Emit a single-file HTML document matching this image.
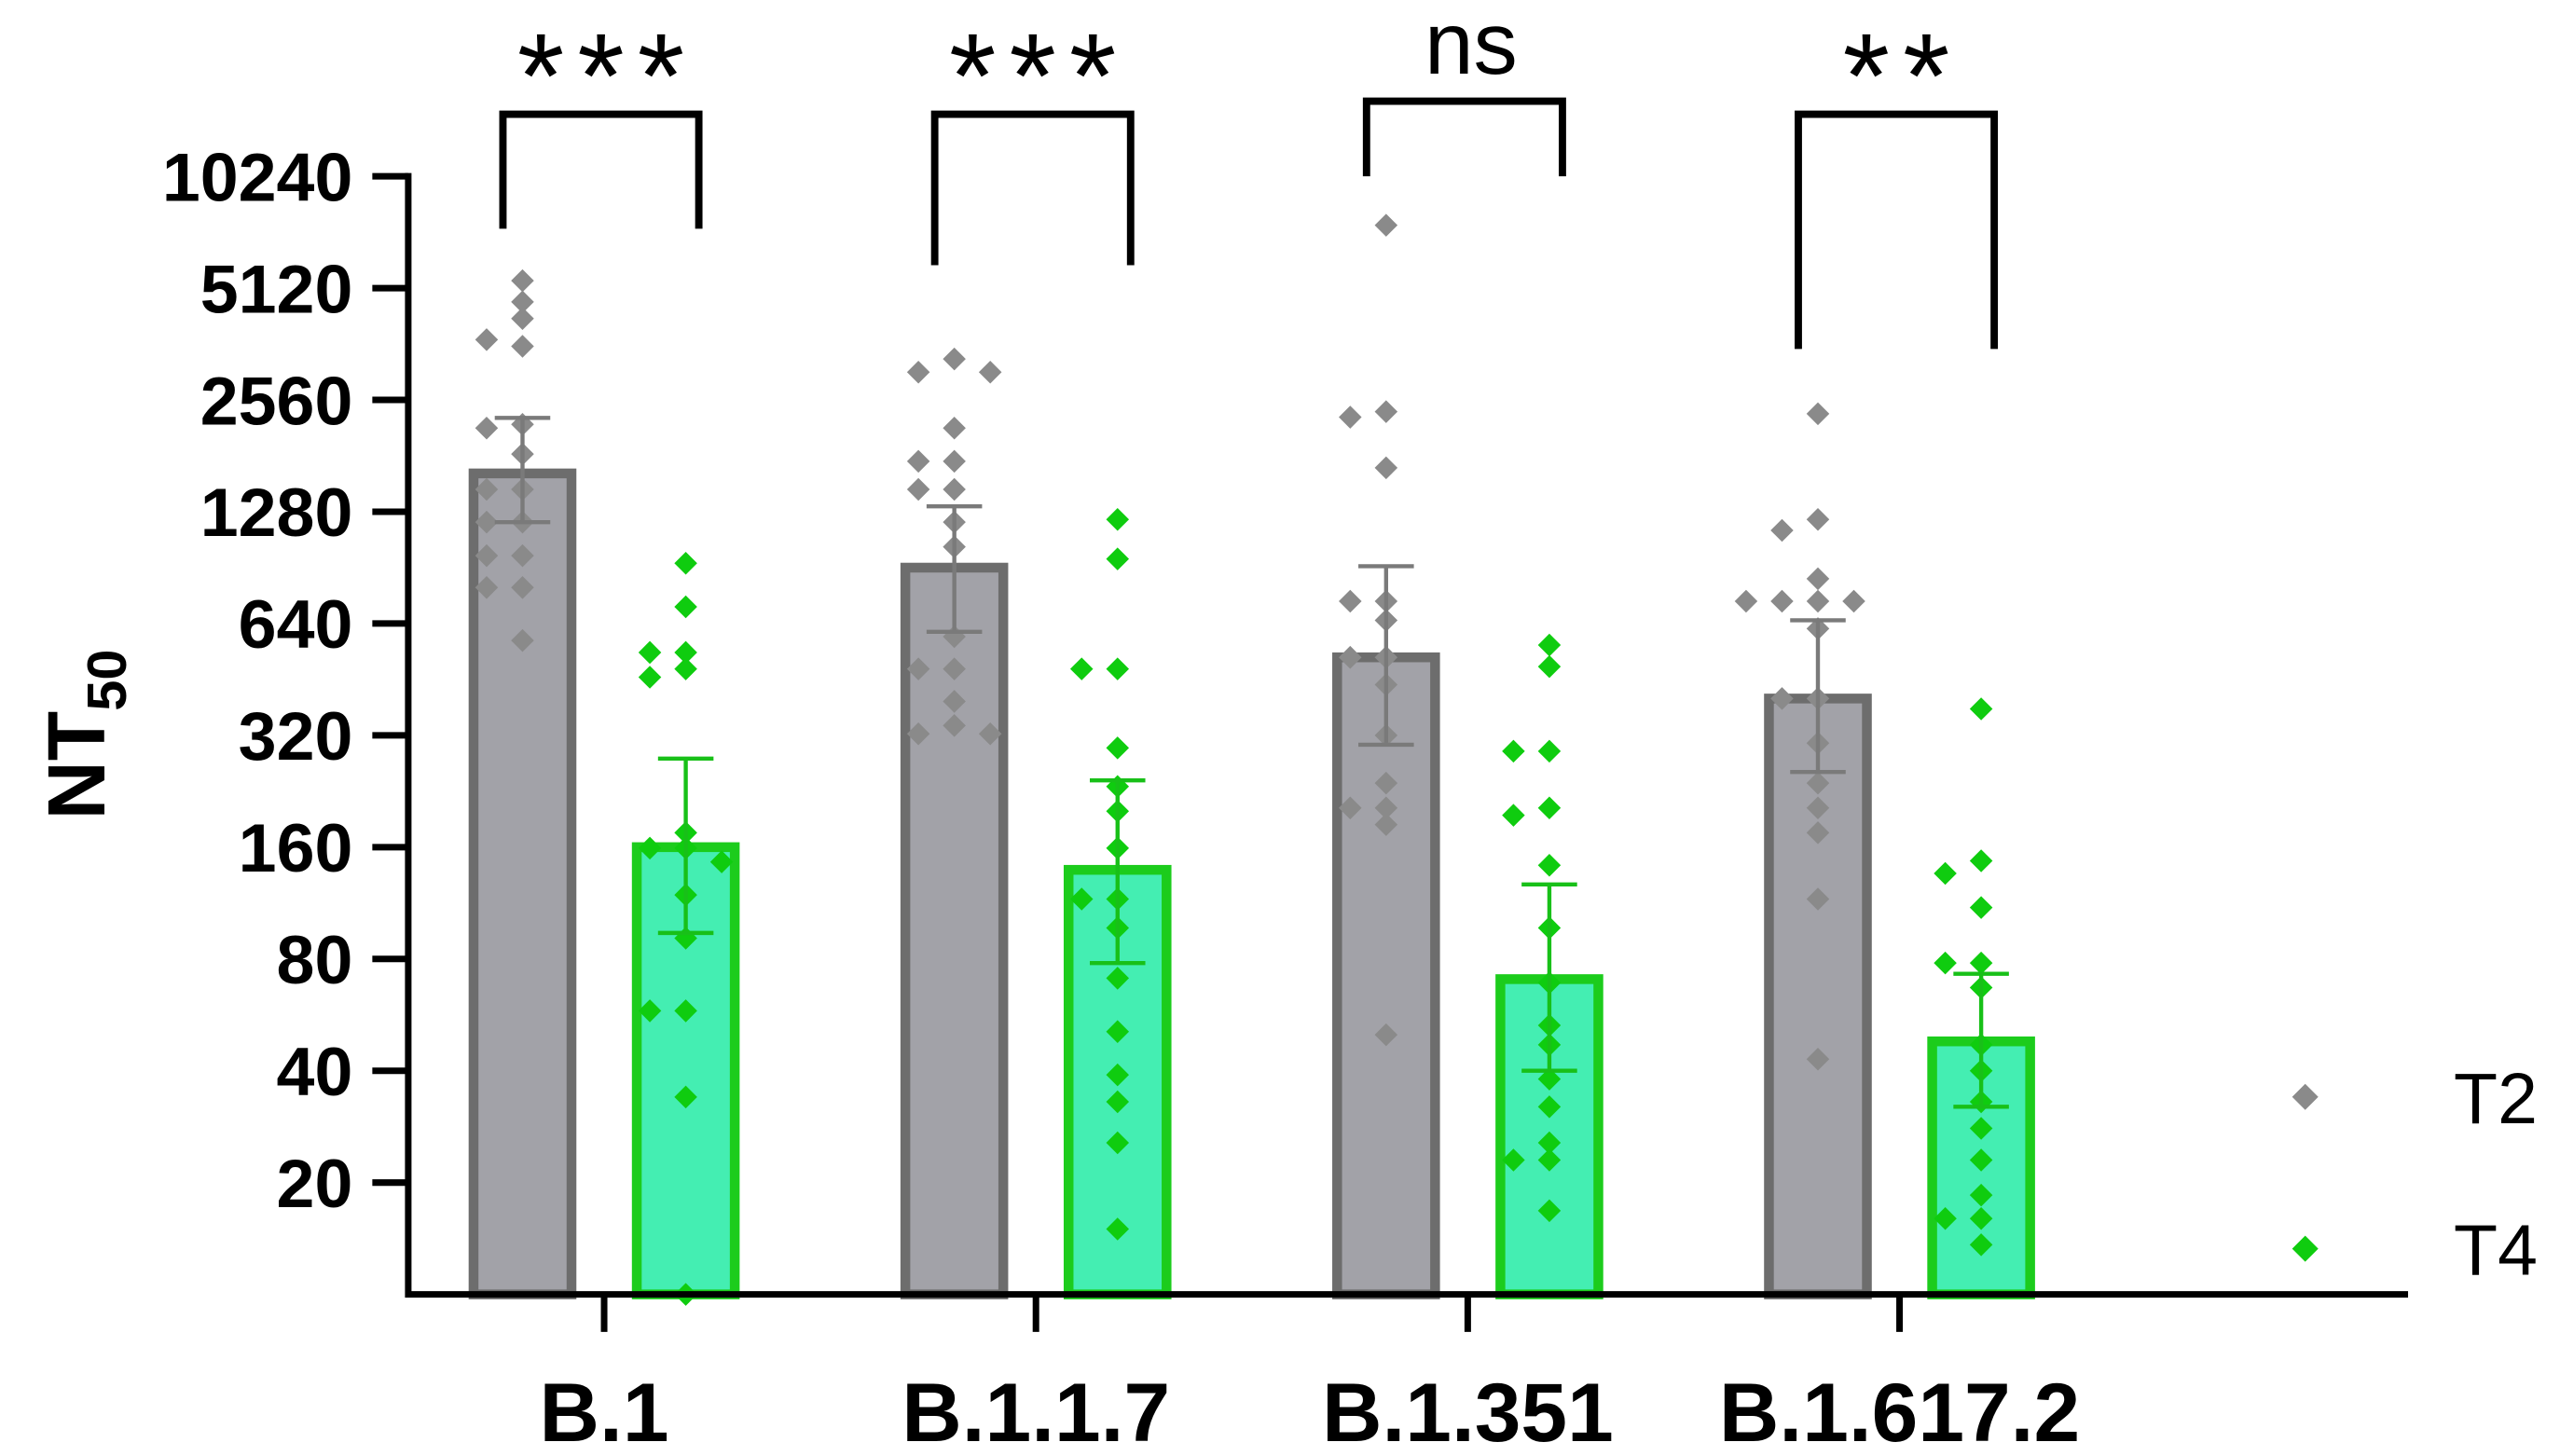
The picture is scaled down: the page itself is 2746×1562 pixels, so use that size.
<!DOCTYPE html>
<html><head><meta charset="utf-8"><style>
html,body{margin:0;padding:0;background:#fff;}
svg{display:block;}
text{font-family:"Liberation Sans",Arial,sans-serif;}
</style></head><body>
<svg id="chart" width="2746" height="1562" viewBox="0 0 1568 892" xmlns="http://www.w3.org/2000/svg">
<g id="marks"></g>
</svg>
<script>
const categories = ["B.1","B.1.1.7","B.1.351","B.1.617.2"];
const t2Means = [1623, 905, 519, 402];
const t4Means = [160, 139, 70.6, 48];
const t2Upper = [2290, 1324, 913, 653];
const t2Lower = [1200, 608, 302, 255];
const t4Upper = [277, 242, 127, 73];
const t4Lower = [94, 78, 40, 32];
const t2Points = [
 [5360,4240,4700,3570,3720,2200,2150,1830,1470,1470,1200,1200,975,975,800,800,576],
 [3300,3040,3040,2150,1750,1750,1470,1470,1200,1030,590,483,483,395,340,323,323],
 [7560,2380,2300,1680,735,735,653,519,519,438,320,238,204,204,184,50],
 [2350,1220,1140,845,735,735,735,735,620,402,402,305,238,204,175,116,43]
];
const t4Points = [
 [930,710,535,535,483,459,175,159,159,146,119,91,58,58,34,10],
 [1220,955,483,483,296,233,200,159,116,116,97,71,51,39,33,25.6,15],
 [560,490,290,290,204,195,143,97,69,53,47,38,32,25.6,23,23,16.8],
 [377,147,136,110,78,78,67,47,40,33,28,23,18.5,16,16,13.6]
];
const sigLabels = ["***","***","ns","**"];
const sigLegValues = [7400, 5900, 10240, 3510];
const yTickValues = [10240,5120,2560,1280,640,320,160,80,40,20];
const yTickLabels = ["10240","5120","2560","1280","640","320","160","80","40","20"];

const NS="http://www.w3.org/2000/svg";
const g=document.getElementById('marks');
const yTop=108, perDouble=68.5, baseY=793, axisX=250, axisRight=1475;
function yScale(v){return yTop+perDouble*Math.log2(10240/v);}
function xCat(i){return 370+i*264.5;}
function el(tag,attrs,parent){const e=document.createElementNS(NS,tag);for(const k in attrs)e.setAttribute(k,attrs[k]);(parent||g).appendChild(e);return e;}

const barW=60, off=50;
categories.forEach((c,i)=>{
  const xs=[xCat(i)-off, xCat(i)+off];
  const means=[t2Means[i],t4Means[i]];
  const fills=["#a2a2a8","#44eeb2"], strokes=["#6d6d6d","#1ccc1c"];
  for(let s=0;s<2;s++){
    const y=yScale(means[s]);
    const r=el('rect',{x:xs[s]-barW/2,y:y,width:barW,height:baseY-y,fill:fills[s],stroke:strokes[s],'stroke-width':6});
    
    
  }
});
function diamond(cx,cy,color,name,r){
  r=r||7;
  const p=el('path',{d:`M${cx} ${cy-r}L${cx+r} ${cy}L${cx} ${cy+r}L${cx-r} ${cy}Z`,fill:color});
  
  
}
function drawPts(arr,i,s,color){
  const cx0=xCat(i)+(s===0?-off:off);
  const used=[];
  arr.forEach((v,k)=>{
    const cy=yScale(v);
    const n=used.filter(u=>Math.abs(u-cy)<9).length;
    used.push(cy);
    const pattern=[0,-1,1,-2,2];
    const dx=pattern[n%5]*22;
    diamond(cx0+dx,cy,color,(s===0?'t2-point-':'t4-point-')+categories[i]);
  });
}
function errBar(i,s,up,lo,color){
  const cx=xCat(i)+(s===0?-off:off);
  const a=el('g',{stroke:color,'stroke-width':2.5,fill:'none'});
  
  
  el('line',{x1:cx,x2:cx,y1:yScale(up),y2:yScale(lo)},a);
  el('line',{x1:cx-17,x2:cx+17,y1:yScale(up),y2:yScale(up)},a);
  el('line',{x1:cx-17,x2:cx+17,y1:yScale(lo),y2:yScale(lo)},a);
}
categories.forEach((c,i)=>{
  drawPts(t2Points[i],i,0,"#8a8a8a");
  drawPts(t4Points[i],i,1,"#0fcc0f");
  errBar(i,0,t2Upper[i],t2Lower[i],"#7a7a7a");
  errBar(i,1,t4Upper[i],t4Lower[i],"#18c018");
});
const ax=el('path',{d:`M${axisX} ${yScale(10240)-2}V${baseY}H${axisRight}`,stroke:'#000','stroke-width':4,fill:'none'});


yTickValues.forEach((v,k)=>{
  const y=yScale(v);
  el('line',{x1:228,x2:axisX,y1:y,y2:y,stroke:'#000','stroke-width':4});
  const t=el('text',{x:216,y:y+15,'text-anchor':'end','font-size':42,'font-weight':'bold'});
  t.textContent=yTickLabels[k];
  
  
});
categories.forEach((c,i)=>{
  const x=xCat(i);
  el('line',{x1:x,x2:x,y1:baseY,y2:816,stroke:'#000','stroke-width':4});
  const t=el('text',{x:x,y:883,'text-anchor':'middle','font-size':51,'font-weight':'bold'});
  t.textContent=c;
  
  
  const x1=xCat(i)-off-12, x2=xCat(i)+off+8;
  const top=i===2?62:70;
  const br=el('path',{d:`M${x1} ${yScale(sigLegValues[i])}V${top}H${x2}V${yScale(sigLegValues[i])}`,stroke:'#000','stroke-width':4.5,fill:'none'});
  
  
  const st=el('text',{x:(x1+x2)/2+4,y:i===2?45:72,'text-anchor':'middle','font-size':i===2?54:74,'letter-spacing':i===2?0:8});
  st.textContent=sigLabels[i];
  
  
});
const yt=el('text',{transform:'translate(64,450) rotate(-90)','text-anchor':'middle','font-size':50,'font-weight':'bold'});
yt.innerHTML='NT<tspan font-size="34" dy="13">50</tspan>';


[["T2","#8a8a8a",672],["T4","#0fcc0f",765]].forEach(l=>{
  diamond(1412,l[2],l[1],'legend-marker-'+l[0],8);
  const t=el('text',{x:1503,y:l[2]+16,'font-size':44});
  t.textContent=l[0];
  
  
});
</script>
</body></html>
